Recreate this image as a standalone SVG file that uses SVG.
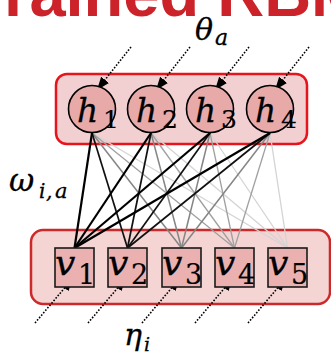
<svg xmlns="http://www.w3.org/2000/svg" width="331" height="355" viewBox="0 0 331 355">
<style>
.var{font-family:"DejaVu Serif","Liberation Serif",serif;font-style:italic;fill:#000;stroke:#000;stroke-width:0.3}
.num{font-family:"DejaVu Serif","Liberation Serif",serif;font-style:normal;fill:#000;stroke:#000;stroke-width:0.2}
.hn{fill:#e8a9a9;stroke:#000;stroke-width:1.6}
.vn{fill:#ebb1b1;stroke:#1a1a1a;stroke-width:1.6}
.inp{stroke:#000;stroke-width:1.6;stroke-dasharray:1.6 1.6;fill:none}
.e1{stroke:#000;stroke-width:2.2}
.e2{stroke:#111;stroke-width:1.7}
.e3{stroke:#858585;stroke-width:1.5}
.e4{stroke:#a0a0a0;stroke-width:1.3}
.e5{stroke:#d4d4d4;stroke-width:1.3}
</style>
<defs>
<marker id="arr" markerUnits="userSpaceOnUse" markerWidth="14" markerHeight="10" refX="13" refY="5" orient="auto">
<path d="M0,0 L13,5 L0,10 z" fill="#000"/>
</marker>
</defs>
<text x="-32" y="16" font-family="Liberation Sans, Arial, sans-serif" font-weight="bold" font-size="65" fill="#cc2229">Trained RBM</text>
<g id="hidden-layer">
<rect x="56" y="74" width="251" height="70" rx="11" fill="#f2cfd0" stroke="#e8141b" stroke-width="2.5"/>
</g>
<g id="visible-layer">
<rect x="31" y="230" width="299" height="74" rx="12" fill="#f5d4d4" stroke="#cc2a2a" stroke-width="2.5"/>
</g>
<g id="connectors">
<g class="e5">
<line x1="92" y1="133" x2="287.5" y2="248"/><line x1="151" y1="133" x2="287.5" y2="248"/><line x1="210" y1="133" x2="287.5" y2="248"/><line x1="270" y1="133" x2="287.5" y2="248"/>
</g>
<g class="e4">
<line x1="92" y1="133" x2="234.5" y2="248"/><line x1="151" y1="133" x2="234.5" y2="248"/><line x1="210" y1="133" x2="234.5" y2="248"/><line x1="270" y1="133" x2="234.5" y2="248"/>
</g>
<g class="e3">
<line x1="92" y1="133" x2="181.5" y2="248"/><line x1="151" y1="133" x2="181.5" y2="248"/><line x1="210" y1="133" x2="181.5" y2="248"/><line x1="270" y1="133" x2="181.5" y2="248"/>
</g>
<g class="e2">
<line x1="92" y1="133" x2="127.5" y2="248"/><line x1="151" y1="133" x2="127.5" y2="248"/><line x1="210" y1="133" x2="127.5" y2="248"/><line x1="270" y1="133" x2="127.5" y2="248"/>
</g>
<g class="e1">
<line x1="92" y1="133" x2="74.5" y2="248"/><line x1="151" y1="133" x2="74.5" y2="248"/><line x1="210" y1="133" x2="74.5" y2="248"/><line x1="270" y1="133" x2="74.5" y2="248"/>
</g>
<g class="inp" marker-end="url(#arr)">
<line x1="131" y1="47" x2="97" y2="90"/>
<line x1="190" y1="47" x2="156" y2="90"/>
<line x1="249" y1="47" x2="215" y2="90"/>
<line x1="309" y1="47" x2="275" y2="90"/>
<line x1="35" y1="323" x2="73" y2="278"/>
<line x1="88" y1="323" x2="126" y2="278"/>
<line x1="142" y1="323" x2="180" y2="278"/>
<line x1="195" y1="323" x2="233" y2="278"/>
<line x1="248" y1="323" x2="286" y2="278"/>
</g>
</g>
<g id="h1"><circle class="hn" cx="92" cy="109" r="23.5"/><text class="var" x="77" y="122" font-size="33">h</text><text class="num" x="103" y="128" font-size="25">1</text></g>
<g id="h2"><circle class="hn" cx="151" cy="109" r="23.5"/><text class="var" x="136" y="122" font-size="33">h</text><text class="num" x="162" y="128" font-size="25">2</text></g>
<g id="h3"><circle class="hn" cx="210" cy="109" r="23.5"/><text class="var" x="195" y="122" font-size="33">h</text><text class="num" x="221" y="128" font-size="25">3</text></g>
<g id="h4"><circle class="hn" cx="270" cy="109" r="23.5"/><text class="var" x="255" y="122" font-size="33">h</text><text class="num" x="281" y="128" font-size="25">4</text></g>
<g id="v1"><rect class="vn" x="55" y="248" width="39" height="39"/><text class="var" x="55" y="275" font-size="36">v</text><text class="num" x="78" y="284" font-size="27">1</text></g>
<g id="v2"><rect class="vn" x="108" y="248" width="39" height="39"/><text class="var" x="108" y="275" font-size="36">v</text><text class="num" x="131" y="284" font-size="27">2</text></g>
<g id="v3"><rect class="vn" x="162" y="248" width="39" height="39"/><text class="var" x="162" y="275" font-size="36">v</text><text class="num" x="185" y="284" font-size="27">3</text></g>
<g id="v4"><rect class="vn" x="215" y="248" width="39" height="39"/><text class="var" x="215" y="275" font-size="36">v</text><text class="num" x="238" y="284" font-size="27">4</text></g>
<g id="v5"><rect class="vn" x="268" y="248" width="39" height="39"/><text class="var" x="268" y="275" font-size="36">v</text><text class="num" x="291" y="284" font-size="27">5</text></g>
<g id="labels">
<text class="var" x="195" y="40" font-size="30">θ</text><text class="var" x="215" y="45" font-size="22">a</text>
<text class="var" x="9" y="191" font-size="31">ω</text><text class="var" x="39" y="198" font-size="20">i</text><text class="var" x="46" y="198" font-size="20">,</text><text class="var" x="55" y="198" font-size="21">a</text>
<text class="var" x="124" y="345" font-size="30">η</text><text class="var" x="144" y="351" font-size="19">i</text>
</g>
</svg>
